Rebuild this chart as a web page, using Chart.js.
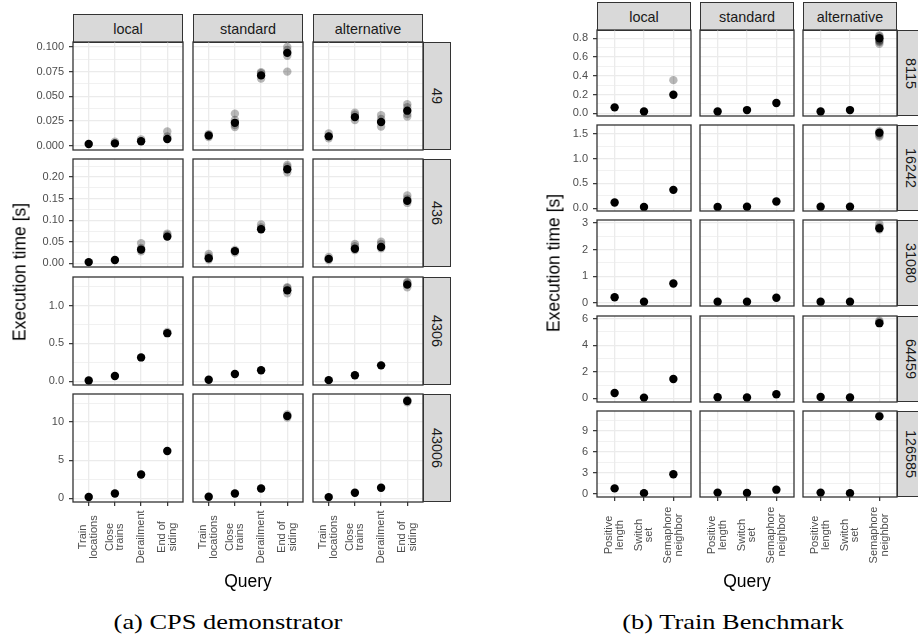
<!DOCTYPE html>
<html>
<head>
<meta charset="utf-8">
<script src="https://cdn.jsdelivr.net/npm/chart.js@4.4.1/dist/chart.umd.min.js"></script>
<style>
  body { margin: 0; width: 918px; height: 635px; position: relative; overflow: hidden; background: #fff;
         font-family: "Liberation Sans", Arial, sans-serif; }
  canvas { position: absolute; }
  .strip { position: absolute; box-sizing: border-box; background: #d9d9d9; border: 1.3px solid #333;
           color: #1a1a1a; font-size: 14.4px; display: flex; align-items: center; justify-content: center; }
  .strip.v span { writing-mode: vertical-rl; }
  .txt { position: absolute; white-space: nowrap; transform: translate(-50%, -50%); color: #000; }
  .title { font-size: 17.5px; }
  .title.rot { transform: translate(-50%, -50%) rotate(-90deg); }
  .caption { font-family: "Liberation Serif", "DejaVu Serif", serif; font-size: 22px; transform: translate(-50%, -50%) scaleX(1.2); }
</style>
</head>
<body>
<script>
const configs = ['local', 'standard', 'alternative']

// (a) CPS demonstrator
const cpsSizes = ['49', '436', '4306', '43006']
const cpsQueries = [['Train', 'locations'], ['Close', 'trains'], ['Derailment'], ['End of', 'siding']]
const cpsTicks = [[0, 0.025, 0.05, 0.075, 0.1], [0, 0.05, 0.1, 0.15, 0.2], [0, 0.5, 1], [0, 5, 10]]
const cpsLimits = [[-0.0043, 0.105], [-0.0083, 0.2416], [-0.049, 1.376], [-0.47, 13.69]]

// median execution time per config (local, standard, alternative) and query
const cps49 = [[0.0017, 0.0024, 0.0046, 0.0068], [0.0103, 0.0232, 0.0712, 0.094], [0.0095, 0.029, 0.024, 0.0355]]
const cps436 = [[0.003, 0.008, 0.032, 0.062], [0.012, 0.0285, 0.079, 0.218], [0.0105, 0.034, 0.038, 0.145]]
const cps4306 = [[0.01, 0.07, 0.315, 0.635], [0.02, 0.096, 0.145, 1.2], [0.015, 0.08, 0.21, 1.275]]
const cps43006 = [[0.18, 0.65, 3.13, 6.22], [0.22, 0.65, 1.3, 10.8], [0.17, 0.74, 1.4, 12.78]]

// other runs: [config, query, seconds]
const cps49Runs = [
  [0, 1, 0.004], [0, 2, 0.0065], [0, 3, 0.0095], [0, 3, 0.0145],
  [1, 0, 0.0088], [1, 0, 0.0118], [1, 1, 0.019], [1, 1, 0.021], [1, 1, 0.026], [1, 1, 0.0325],
  [1, 2, 0.068], [1, 2, 0.0735], [1, 2, 0.0745], [1, 3, 0.091], [1, 3, 0.097], [1, 3, 0.1], [1, 3, 0.075],
  [2, 0, 0.0075], [2, 0, 0.0125], [2, 1, 0.026], [2, 1, 0.0315], [2, 1, 0.0335],
  [2, 2, 0.0195], [2, 2, 0.027], [2, 2, 0.031], [2, 3, 0.0295], [2, 3, 0.032], [2, 3, 0.039], [2, 3, 0.042]
]
const cps436Runs = [
  [0, 2, 0.028], [0, 2, 0.036], [0, 2, 0.047], [0, 3, 0.066], [0, 3, 0.069],
  [1, 0, 0.009], [1, 0, 0.016], [1, 0, 0.022], [1, 1, 0.025], [1, 1, 0.031],
  [1, 2, 0.083], [1, 2, 0.09], [1, 3, 0.211], [1, 3, 0.224], [1, 3, 0.228],
  [2, 0, 0.008], [2, 0, 0.015], [2, 1, 0.031], [2, 1, 0.04], [2, 1, 0.045],
  [2, 2, 0.035], [2, 2, 0.045], [2, 2, 0.05], [2, 3, 0.14], [2, 3, 0.15], [2, 3, 0.157]
]
const cps4306Runs = [[0, 3, 0.65], [1, 3, 1.16], [1, 3, 1.23], [1, 3, 1.24], [2, 3, 1.24], [2, 3, 1.3], [2, 3, 1.31]]
const cps43006Runs = [[1, 3, 10.6], [1, 3, 11.0], [2, 3, 12.6], [2, 3, 12.9]]

// (b) Train Benchmark
const tbSizes = ['8115', '16242', '31080', '64459', '126585']
const tbQueries = [['Positive', 'length'], ['Switch', 'set'], ['Semaphore', 'neighbor']]
const tbTicks = [[0, 0.2, 0.4, 0.6, 0.8], [0, 0.5, 1, 1.5], [0, 1, 2, 3], [0, 2, 4, 6], [0, 3, 6, 9]]
const tbLimits = [[-0.028, 0.888], [-0.055, 1.674], [-0.11, 3.11], [-0.28, 6.2], [-0.43, 11.87]]

const tb8115 = [[0.064, 0.02, 0.198], [0.02, 0.035, 0.11], [0.02, 0.035, 0.8]]
const tb16242 = [[0.115, 0.026, 0.37], [0.026, 0.03, 0.135], [0.03, 0.03, 1.52]]
const tb31080 = [[0.22, 0.05, 0.73], [0.05, 0.05, 0.2], [0.05, 0.05, 2.8]]
const tb64459 = [[0.4, 0.05, 1.45], [0.08, 0.06, 0.3], [0.1, 0.06, 5.66]]
const tb126585 = [[0.8, 0.12, 2.82], [0.2, 0.15, 0.62], [0.2, 0.1, 11.1]]

const tb8115Runs = [[0, 2, 0.354], [2, 2, 0.83], [2, 2, 0.82], [2, 2, 0.78], [2, 2, 0.77], [2, 2, 0.76], [2, 2, 0.74]]
const tb16242Runs = [[2, 2, 1.55], [2, 2, 1.5], [2, 2, 1.47], [2, 2, 1.44]]
const tb31080Runs = [[2, 2, 2.85], [2, 2, 2.95], [2, 2, 2.75]]
const tb64459Runs = [[2, 2, 5.85], [2, 2, 5.75]]
const tb126585Runs = [[2, 2, 11.2]]

const panels = [
  {
    sizes: cpsSizes, queries: cpsQueries, ticks: cpsTicks, limits: cpsLimits,
    medians: [cps49, cps436, cps4306, cps43006],
    runs: [cps49Runs, cps436Runs, cps4306Runs, cps43006Runs],
    cols: [73, 193, 313], w: 110, rows: [42, 159, 277, 394], h: 108, stripTop: 14, labelOffset: 35
  },
  {
    sizes: tbSizes, queries: tbQueries, ticks: tbTicks, limits: tbLimits,
    medians: [tb8115, tb16242, tb31080, tb64459, tb126585],
    runs: [tb8115Runs, tb16242Runs, tb31080Runs, tb64459Runs, tb126585Runs],
    cols: [597, 700, 803], w: 94, rows: [30, 125, 220, 316, 411], h: 86, stripTop: 2, labelOffset: 38
  }
]

const ML = 50, MB = 80, P = 6
const GRID = '#ebebeb', DARK = '#333333'

function tickList(major, lim) {
  const step = major[1] - major[0]
  const list = major.map(v => ({ value: v, isMajor: true }))
  for (let v = major[0] - step / 2; v <= lim[1]; v += step) {
    if (v >= lim[0]) list.push({ value: v, isMajor: false })
  }
  return list.sort((a, b) => a.value - b.value)
}

function formatter(major) {
  const d = Math.max(...major.map(t => (String(t).split('.')[1] || '').length))
  return v => v.toFixed(d)
}

const framePlugin = {
  id: 'frame',
  afterDatasetsDraw(chart) {
    const { ctx, chartArea: a } = chart
    ctx.save()
    ctx.strokeStyle = DARK
    ctx.lineWidth = 1.3
    ctx.strokeRect(a.left, a.top, a.right - a.left, a.bottom - a.top)
    ctx.restore()
  }
}

function queryLabels(queries, offset) {
  return {
    id: 'queryLabels',
    afterDraw(chart) {
      const { ctx, chartArea } = chart
      const xs = chart.scales.x
      ctx.save()
      ctx.fillStyle = '#4d4d4d'
      ctx.font = '11px "Liberation Sans", Arial, sans-serif'
      ctx.textAlign = 'center'
      ctx.textBaseline = 'middle'
      queries.forEach((lines, i) => {
        ctx.save()
        ctx.translate(xs.getPixelForValue(i + 1), chartArea.bottom + offset)
        ctx.rotate(-Math.PI / 2)
        lines.forEach((line, k) => ctx.fillText(line, 0, (k - (lines.length - 1) / 2) * 10.6))
        ctx.restore()
      })
      ctx.restore()
    }
  }
}

function addDiv(cls, text, css) {
  const d = document.createElement('div')
  d.className = cls
  if (cls.includes(' v')) {
    const s = document.createElement('span')
    s.textContent = text
    d.appendChild(s)
  } else {
    d.textContent = text
  }
  Object.assign(d.style, css)
  document.body.appendChild(d)
  return d
}

function drawPanel(p) {
  const nRows = p.sizes.length
  const nQ = p.queries.length

  p.cols.forEach((x, c) => {
    addDiv('strip', configs[c], { left: x + 'px', top: p.stripTop + 'px', width: p.w + 'px', height: (p.rows[0] - p.stripTop + 1) + 'px' })
  })

  p.sizes.forEach((size, r) => {
    const y = p.rows[r]
    const right = p.cols[2] + p.w
    addDiv('strip v', size, { left: right + 'px', top: y + 'px', width: '28px', height: p.h + 'px' })

    const ticks = tickList(p.ticks[r], p.limits[r])
    const fmt = formatter(p.ticks[r])

    p.cols.forEach((x, c) => {
      const first = c === 0
      const bottom = r === nRows - 1
      const left = first ? ML : P
      const canvas = document.createElement('canvas')
      canvas.width = p.w + left + P
      canvas.height = p.h + P + (bottom ? MB : P)
      canvas.style.left = (x - left) + 'px'
      canvas.style.top = (y - P) + 'px'
      document.body.appendChild(canvas)

      const med = p.medians[r][c]
      const runs = p.runs[r].filter(run => run[0] === c)
      const plugins = [framePlugin]
      if (bottom) plugins.push(queryLabels(p.queries, p.labelOffset))

      new Chart(canvas, {
        type: 'scatter',
        data: {
          datasets: [
            {
              data: med.map((v, q) => ({ x: q + 1, y: v })),
              backgroundColor: '#000', pointRadius: 4.2, borderWidth: 0, clip: 0
            },
            {
              data: runs.map(run => ({ x: run[1] + 1, y: run[2] })),
              backgroundColor: 'rgba(0,0,0,0.28)', pointRadius: 4.2, borderWidth: 0, clip: 0
            }
          ]
        },
        options: {
          responsive: false,
          devicePixelRatio: 1,
          animation: false,
          events: [],
          layout: { padding: { top: P, right: P, left: first ? 0 : P, bottom: bottom ? 0 : P } },
          plugins: { legend: { display: false }, tooltip: { enabled: false } },
          scales: {
            x: {
              type: 'linear', min: 0.4, max: nQ + 0.6, bounds: 'data',
              afterBuildTicks: s => { s.ticks = p.queries.map((_, i) => ({ value: i + 1 })) },
              ticks: { display: false },
              grid: { color: GRID, lineWidth: 1.3, drawTicks: bottom, tickLength: 4, tickColor: DARK, tickWidth: 1.2 },
              border: { display: false },
              afterFit: s => {
                s.height = bottom ? MB : 0
                s.paddingLeft = 0; s.paddingRight = 0
              }
            },
            y: {
              type: 'linear', min: p.limits[r][0], max: p.limits[r][1], bounds: 'data',
              afterBuildTicks: s => { s.ticks = ticks.map(t => ({ ...t })) },
              ticks: {
                display: first, autoSkip: false, color: '#4d4d4d', padding: 5,
                font: { size: 11, family: '"Liberation Sans", Arial, sans-serif' },
                callback: (v, i, ts) => ts[i].isMajor ? fmt(v) : ''
              },
              grid: {
                color: GRID,
                lineWidth: ctx => ctx.tick && ctx.tick.isMajor ? 1.3 : 0.7,
                drawTicks: first, tickLength: 4, tickWidth: 1.2,
                tickColor: ctx => ctx.tick && ctx.tick.isMajor ? DARK : 'rgba(0,0,0,0)'
              },
              border: { display: false },
              afterFit: s => {
                s.width = first ? ML : 0
                s.paddingTop = 0; s.paddingBottom = 0
              }
            }
          }
        },
        plugins
      })
    })
  })
}

panels.forEach(drawPanel)

addDiv('txt title rot', 'Execution time [s]', { left: '20px', top: '272px' })
addDiv('txt title rot', 'Execution time [s]', { left: '554px', top: '263px' })
addDiv('txt title', 'Query', { left: '248px', top: '581px' })
addDiv('txt title', 'Query', { left: '747px', top: '581px' })
addDiv('txt caption', '(a) CPS demonstrator', { left: '228px', top: '622px' })
addDiv('txt caption', '(b) Train Benchmark', { left: '733px', top: '622px' })
</script>
</body>
</html>
